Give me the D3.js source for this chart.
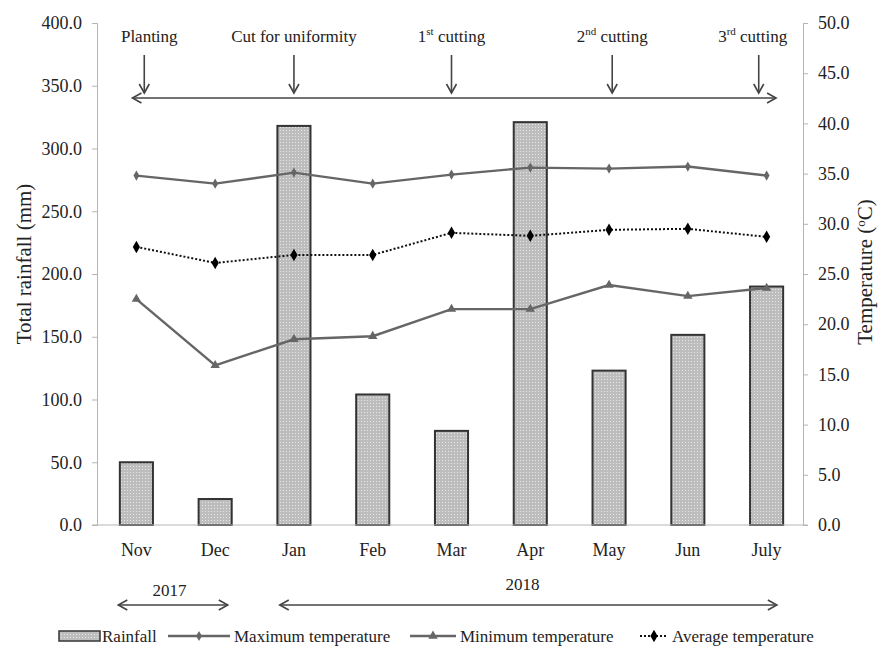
<!DOCTYPE html>
<html>
<head>
<meta charset="utf-8">
<script src="https://cdn.jsdelivr.net/npm/d3@7"></script>
<style>
  body { margin: 0; background: #fff; }
  svg text { fill: #222; font-family: 'Liberation Serif', Tinos, 'Times New Roman', 'DejaVu Serif', serif; }
</style>
</head>
<body>
<div id="chart"></div>
<script>
const months = ["Nov", "Dec", "Jan", "Feb", "Mar", "Apr", "May", "Jun", "July"]
const rainfall = [50.0, 20.7, 318.0, 104.0, 75.0, 321.0, 123.0, 151.5, 190.0]
const maxTemp = [34.8, 34.0, 35.1, 34.0, 34.9, 35.6, 35.5, 35.7, 34.8]
const avgTemp = [27.7, 26.1, 26.9, 26.9, 29.1, 28.8, 29.4, 29.5, 28.7]
const minTemp = [22.5, 15.9, 18.5, 18.8, 21.5, 21.5, 23.9, 22.8, 23.6]
const rainTicks = [0, 50, 100, 150, 200, 250, 300, 350, 400]
const tempTicks = [0, 5, 10, 15, 20, 25, 30, 35, 40, 45, 50]
// events above the chart: position in month index units
const events = [
  { main: "Planting", sup: "", rest: "", at: 0.1 },
  { main: "Cut for uniformity", sup: "", rest: "", at: 2 },
  { main: "1", sup: "st", rest: " cutting", at: 4 },
  { main: "2", sup: "nd", rest: " cutting", at: 6.04 },
  { main: "3", sup: "rd", rest: " cutting", at: 7.9 },
]
const years = [
  { label: "2017", from: -0.23, to: 1.16, labelAt: 0.42 },
  { label: "2018", from: 1.82, to: 8.13, labelAt: 4.9 },
]

const width = 880, height = 650
const margin = { left: 97, right: 74, top: 23, bottom: 125 }
const serif = "'Liberation Serif', Tinos, 'Times New Roman', 'DejaVu Serif', serif"

const x = d3.scaleBand().domain(months)
  .range([margin.left, width - margin.right])
  .paddingInner(0.58).paddingOuter(0.29)
const yRain = d3.scaleLinear().domain([0, 400]).range([height - margin.bottom, margin.top])
const yTemp = d3.scaleLinear().domain([0, 50]).range([height - margin.bottom, margin.top])
const idx = d3.scaleLinear().domain([0, months.length - 1])
  .range([x(months[0]) + x.bandwidth() / 2, x(months[months.length - 1]) + x.bandwidth() / 2])

const svg = d3.select('#chart').append('svg')
  .attr('width', width).attr('height', height)

// dotted fill for the bars
const pat = svg.append('defs').append('pattern')
  .attr('id', 'dots').attr('patternUnits', 'userSpaceOnUse')
  .attr('width', 3).attr('height', 3)
pat.append('rect').attr('width', 3).attr('height', 3).attr('fill', '#bdbdbd')
pat.append('rect').attr('x', 1).attr('y', 1).attr('width', 1).attr('height', 1).attr('fill', '#e6e6e6')

const axisColor = '#b5b5b5'

// left axis
const gl = svg.append('g')
  .attr('transform', `translate(${margin.left},0)`)
  .call(d3.axisLeft(yRain).tickValues(rainTicks).tickFormat(d3.format('.1f')).tickSize(5).tickPadding(10))
// right axis
const gr = svg.append('g')
  .attr('transform', `translate(${width - margin.right - 3},0)`)
  .call(d3.axisRight(yTemp).tickValues(tempTicks).tickFormat(d3.format('.1f')).tickSize(5).tickPadding(10))
for (const g of [gl, gr]) {
  g.attr('font-family', null).attr('font-size', null)
  g.select('.domain').attr('stroke', axisColor)
  g.selectAll('.tick line').attr('stroke', axisColor)
  g.selectAll('.tick text').style('font-size', '18px').attr('fill', '#333')
}

// bars
svg.append('g').selectAll('rect')
  .data(rainfall)
  .join('rect')
  .attr('x', (d, i) => x(months[i]))
  .attr('width', x.bandwidth())
  .attr('y', d => yRain(d))
  .attr('height', d => yRain(0) - yRain(d))
  .attr('fill', 'url(#dots)')
  .attr('stroke', '#333')
  .attr('stroke-width', 2)

// baseline
svg.append('line')
  .attr('x1', margin.left - 5).attr('x2', width - margin.right + 2)
  .attr('y1', yRain(0)).attr('y2', yRain(0))
  .attr('stroke', axisColor).attr('stroke-width', 1.2)

// month labels
svg.append('g').selectAll('text')
  .data(months)
  .join('text')
  .attr('x', d => x(d) + x.bandwidth() / 2)
  .attr('y', 556)
  .attr('text-anchor', 'middle')
  .style('font-size', '18px')
  .text(d => d)

// temperature lines
const line = d3.line()
  .x((d, i) => x(months[i]) + x.bandwidth() / 2)
  .y(d => yTemp(d))

const series = [
  { values: maxTemp, color: '#666', dash: null, width: 2.4, symbol: d3.symbolDiamond, size: 30, fill: '#666' },
  { values: minTemp, color: '#666', dash: null, width: 2.4, symbol: d3.symbolTriangle, size: 38, fill: '#666' },
  { values: avgTemp, color: '#111', dash: '2,2', width: 2, symbol: d3.symbolDiamond, size: 45, fill: '#000' },
]

for (const s of series) {
  svg.append('path')
    .datum(s.values)
    .attr('d', line)
    .attr('fill', 'none')
    .attr('stroke', s.color)
    .attr('stroke-width', s.width)
    .attr('stroke-dasharray', s.dash)
  svg.append('g').selectAll('path')
    .data(s.values)
    .join('path')
    .attr('transform', (d, i) => `translate(${x(months[i]) + x.bandwidth() / 2},${yTemp(d)})`)
    .attr('d', d3.symbol().type(s.symbol).size(s.size))
    .attr('fill', s.fill)
}

// axis titles
svg.append('text')
  .attr('transform', `translate(31,${yRain(200) - 10}) rotate(-90)`)
  .attr('text-anchor', 'middle')
  .style('font-size', '21px')
  .text('Total rainfall (mm)')

const rt = svg.append('text')
  .attr('transform', `translate(872,${yTemp(25) - 2}) rotate(-90)`)
  .attr('text-anchor', 'middle')
  .style('font-size', '21px')
rt.append('tspan').text('Temperature (')
rt.append('tspan').attr('dy', -7).style('font-size', '13px').text('o')
rt.append('tspan').attr('dy', 7).text('C)')

// arrow helpers
const arrowStroke = '#444'
function head(g, px, py, dx, dy) {
  // open V arrowhead pointing in direction (dx, dy)
  const len = 9, half = 5
  const bx = px - dx * len, by = py - dy * len
  const nx = -dy, ny = dx
  g.append('path')
    .attr('d', `M${bx + nx * half},${by + ny * half}L${px},${py}L${bx - nx * half},${by - ny * half}`)
    .attr('fill', 'none').attr('stroke', arrowStroke).attr('stroke-width', 1.6)
}
function hArrow(g, x1, x2, y) {
  g.append('line').attr('x1', x1).attr('x2', x2).attr('y1', y).attr('y2', y)
    .attr('stroke', arrowStroke).attr('stroke-width', 1.6)
  head(g, x1, y, -1, 0)
  head(g, x2, y, 1, 0)
}

const ann = svg.append('g')
hArrow(ann, idx(-0.05), idx(8.12), 98)

events.forEach(e => {
  const cx = idx(e.at)
  ann.append('line').attr('x1', cx).attr('x2', cx).attr('y1', 55).attr('y2', 93)
    .attr('stroke', arrowStroke).attr('stroke-width', 1.6)
  head(ann, cx, 93, 0, 1)
  const t = ann.append('text')
    .attr('x', cx + (e.at < 1 ? 5 : e.at > 7.5 ? -6 : 0))
    .attr('y', 42)
    .attr('text-anchor', 'middle')
    .style('font-size', '17px')
  t.append('tspan').text(e.main)
  if (e.sup) {
    t.append('tspan').attr('dy', -7).style('font-size', '11px').text(e.sup)
    t.append('tspan').attr('dy', 7).text(e.rest)
  }
})

// years
years.forEach(yr => {
  hArrow(ann, idx(yr.from), idx(yr.to), 605)
  ann.append('text')
    .attr('x', idx(yr.labelAt))
    .attr('y', yr.label === '2017' ? 596 : 590)
    .attr('text-anchor', 'middle')
    .style('font-size', '17px')
    .text(yr.label)
})

// legend
const lg = svg.append('g').attr('transform', 'translate(0,636)')
lg.append('rect').attr('x', 59).attr('y', -5).attr('width', 41).attr('height', 10)
  .attr('fill', 'url(#dots)').attr('stroke', '#333').attr('stroke-width', 1.5)
lg.append('text').attr('x', 102).attr('y', 6).style('font-size', '17px').text('Rainfall')

const legendLines = [
  { s: series[0], x1: 168, x2: 230, label: 'Maximum temperature' },
  { s: series[1], x1: 410, x2: 456, label: 'Minimum temperature' },
  { s: series[2], x1: 640, x2: 668, label: 'Average temperature' },
]
legendLines.forEach(l => {
  lg.append('line').attr('x1', l.x1).attr('x2', l.x2).attr('y1', 0).attr('y2', 0)
    .attr('stroke', l.s.color).attr('stroke-width', l.s.width).attr('stroke-dasharray', l.s.dash)
  lg.append('path').attr('transform', `translate(${(l.x1 + l.x2) / 2},0)`)
    .attr('d', d3.symbol().type(l.s.symbol).size(l.s.size)).attr('fill', l.s.fill)
  lg.append('text').attr('x', l.x2 + 4).attr('y', 6).style('font-size', '17px').text(l.label)
})
</script>
</body>
</html>
